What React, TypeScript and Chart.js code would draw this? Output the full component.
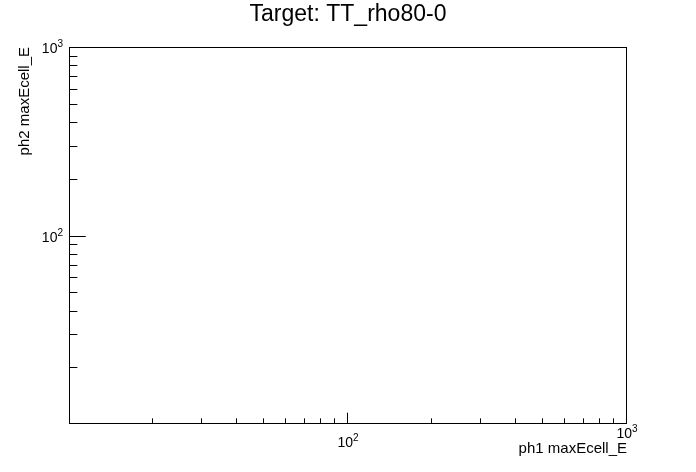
import React, { useEffect, useRef } from "react";
import { Chart, registerables } from "chart.js";

Chart.register(...registerables);

// ---- data (empty 2D histogram: axes only) ----
const titleText = "Target: TT_rho80-0";
const xTitle = "ph1 maxEcell_E";
const yTitle = "ph2 maxEcell_E";
const xRange = [10, 1000];
const yRange = [10, 1000];
const xMajorTicks = [100, 1000];
const yMajorTicks = [100, 1000];
const tickBase = "10";
const xTickExponents = ["2", "3"];
const yTickExponents = ["2", "3"];
const xMinorTicks = [20, 30, 40, 50, 60, 70, 80, 90, 200, 300, 400, 500, 600, 700, 800, 900];
const yMinorTicks = [20, 30, 40, 50, 60, 70, 80, 90, 200, 300, 400, 500, 600, 700, 800, 900];
const pointsX: number[] = [];
const pointsY: number[] = [];

const FONT = "'Liberation Sans', Arial, Helvetica, sans-serif";

const rootFramePlugin = {
  id: "rootFrame",
  afterDraw(chart: any) {
    const { ctx, chartArea: a, scales } = chart;
    const xs = scales.x;
    const ys = scales.y;
    const w = a.right - a.left;
    const h = a.bottom - a.top;
    ctx.save();
    ctx.strokeStyle = "#000";
    ctx.lineWidth = 1;
    ctx.strokeRect(a.left + 0.5, a.top + 0.5, w - 1, h - 1);
    ctx.beginPath();
    const xMaj = 0.03 * h;
    const yMaj = 0.03 * w;
    const xTick = (v: number, len: number) => {
      const px = Math.round(xs.getPixelForValue(v)) - 0.5;
      ctx.moveTo(px, a.bottom);
      ctx.lineTo(px, a.bottom - len);
    };
    const yTick = (v: number, len: number) => {
      const py = Math.round(ys.getPixelForValue(v)) + 0.5;
      ctx.moveTo(a.left, py);
      ctx.lineTo(a.left + len, py);
    };
    xMajorTicks.forEach((v) => xTick(v, xMaj));
    xMinorTicks.forEach((v) => xTick(v, xMaj / 2));
    yMajorTicks.forEach((v) => yTick(v, yMaj));
    yMinorTicks.forEach((v) => yTick(v, yMaj / 2));
    ctx.stroke();

    ctx.fillStyle = "#000";
    ctx.textBaseline = "alphabetic";
    ctx.textAlign = "left";
    const baseFont = `14px ${FONT}`;
    const expFont = `10px ${FONT}`;

    // x tick labels: 10^n (label at the axis end is lifted, as ROOT does)
    xMajorTicks.forEach((v, i) => {
      const px = xs.getPixelForValue(v);
      ctx.font = baseFont;
      const wb = ctx.measureText(tickBase).width;
      ctx.font = expFont;
      const we = ctx.measureText(xTickExponents[i]).width;
      const x0 = px - (wb + we) / 2;
      const atEnd = Math.abs(px - a.right) < 1;
      const base = a.bottom + 23 - (atEnd ? 9 : 0);
      ctx.font = baseFont;
      ctx.fillText(tickBase, x0, base);
      ctx.font = expFont;
      ctx.fillText(xTickExponents[i], x0 + wb, base - 6);
    });

    // y tick labels: 10^n
    yMajorTicks.forEach((v, i) => {
      const py = ys.getPixelForValue(v);
      ctx.font = baseFont;
      const wb = ctx.measureText(tickBase).width;
      ctx.font = expFont;
      const we = ctx.measureText(yTickExponents[i]).width;
      const right = a.left - 6;
      const base = py + 6;
      ctx.font = baseFont;
      ctx.fillText(tickBase, right - we - wb, base);
      ctx.font = expFont;
      ctx.fillText(yTickExponents[i], right - we, base - 6);
    });

    // axis titles
    ctx.font = `15px ${FONT}`;
    ctx.textAlign = "right";
    ctx.fillText(xTitle, a.right, 453);
    ctx.translate(29, a.top);
    ctx.rotate(-Math.PI / 2);
    ctx.fillText(yTitle, 0, 0);
    ctx.restore();
  },
};

export default function App() {
  const ref = useRef<HTMLCanvasElement | null>(null);
  useEffect(() => {
    document.body.style.margin = "0";
    if (!ref.current) return;
    const chart = new Chart(ref.current, {
      type: "scatter",
      data: {
        datasets: [
          {
            data: pointsX.map((x, i) => ({ x, y: pointsY[i] })),
            pointRadius: 1,
            backgroundColor: "#000",
          },
        ],
      },
      options: {
        responsive: false,
        animation: false,
        devicePixelRatio: 1,
        layout: { padding: { left: 0, right: 69, top: 0, bottom: 0 } },
        plugins: {
          legend: { display: false },
          tooltip: { enabled: false },
          title: {
            display: true,
            text: titleText,
            fullSize: false,
            color: "#000",
            font: { family: FONT, size: 23, weight: "normal", lineHeight: 1.2 },
            padding: { top: 1, bottom: 18.4 },
          },
        },
        scales: {
          x: {
            type: "logarithmic",
            min: xRange[0],
            max: xRange[1],
            grid: { display: false, drawTicks: false },
            border: { display: false },
            ticks: { display: false },
            afterBuildTicks: (s: any) => {
              s.ticks = xMajorTicks.map((v) => ({ value: v }));
            },
            afterFit: (s: any) => {
              s.height = 48;
            },
          },
          y: {
            type: "logarithmic",
            min: yRange[0],
            max: yRange[1],
            grid: { display: false, drawTicks: false },
            border: { display: false },
            ticks: { display: false },
            afterBuildTicks: (s: any) => {
              s.ticks = yMajorTicks.map((v) => ({ value: v }));
            },
            afterFit: (s: any) => {
              s.width = 69;
            },
          },
        },
      },
      plugins: [rootFramePlugin],
    } as any);
    return () => chart.destroy();
  }, []);
  return (
    <div style={{ width: 696, height: 472, background: "#fff" }}>
      <canvas ref={ref} width={696} height={472} />
    </div>
  );
}
